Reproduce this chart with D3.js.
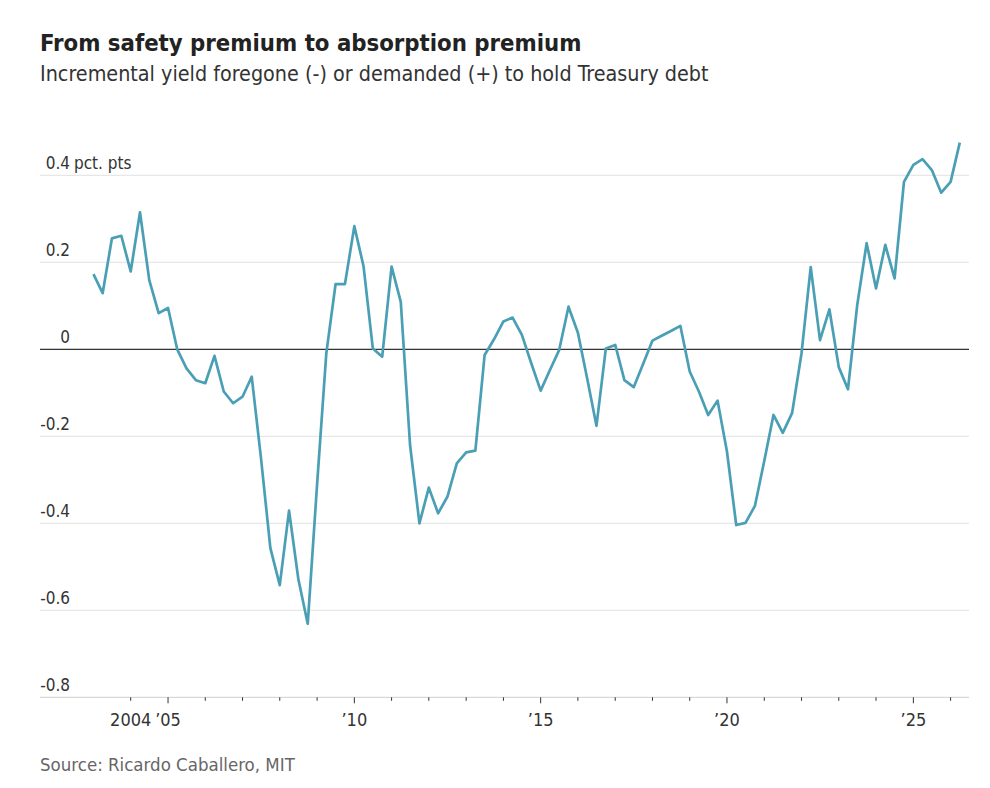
<!DOCTYPE html>
<html>
<head>
<meta charset="utf-8">
<script src="https://cdn.jsdelivr.net/npm/d3@7"></script>
<style>
  html, body { margin: 0; padding: 0; background: #fff; }
  svg { display: block; }
</style>
</head>
<body>
<svg id="chart" width="990" height="788"></svg>
<script>
// ---- Data ----
const quarters = [
  "2003Q1","2003Q2","2003Q3","2003Q4","2004Q1","2004Q2","2004Q3","2004Q4",
  "2005Q1","2005Q2","2005Q3","2005Q4","2006Q1","2006Q2","2006Q3","2006Q4",
  "2007Q1","2007Q2","2007Q3","2007Q4","2008Q1","2008Q2","2008Q3","2008Q4",
  "2009Q1","2009Q2","2009Q3","2009Q4","2010Q1","2010Q2","2010Q3","2010Q4",
  "2011Q1","2011Q2","2011Q3","2011Q4","2012Q1","2012Q2","2012Q3","2012Q4",
  "2013Q1","2013Q2","2013Q3","2013Q4","2014Q1","2014Q2","2014Q3","2014Q4",
  "2015Q1","2015Q2","2015Q3","2015Q4","2016Q1","2016Q2","2016Q3","2016Q4",
  "2017Q1","2017Q2","2017Q3","2017Q4","2018Q1","2018Q2","2018Q3","2018Q4",
  "2019Q1","2019Q2","2019Q3","2019Q4","2020Q1","2020Q2","2020Q3","2020Q4",
  "2021Q1","2021Q2","2021Q3","2021Q4","2022Q1","2022Q2","2022Q3","2022Q4",
  "2023Q1","2023Q2","2023Q3","2023Q4","2024Q1","2024Q2","2024Q3","2024Q4",
  "2025Q1","2025Q2","2025Q3","2025Q4","2026Q1","2026Q2"
];
const premium = [
   0.173, 0.129, 0.255, 0.261, 0.179, 0.315, 0.159, 0.083,
   0.095, 0.000,-0.044,-0.071,-0.078,-0.015,-0.097,-0.124,
  -0.109,-0.063,-0.250,-0.457,-0.542,-0.371,-0.528,-0.631,
  -0.310,-0.010, 0.150, 0.150, 0.283, 0.191, 0.002,-0.017,
   0.190, 0.109,-0.220,-0.400,-0.318,-0.377,-0.339,-0.262,
  -0.237,-0.233,-0.013, 0.023, 0.064, 0.073, 0.033,-0.032,
  -0.095,-0.048,-0.002, 0.098, 0.038,-0.067,-0.176, 0.002,
   0.010,-0.071,-0.087,-0.034, 0.020, 0.031, 0.042, 0.054,
  -0.051,-0.097,-0.151,-0.118,-0.235,-0.404,-0.399,-0.360,
  -0.256,-0.151,-0.192,-0.146,-0.009, 0.189, 0.021, 0.092,
  -0.041,-0.092, 0.102, 0.244, 0.140, 0.240, 0.163, 0.385,
   0.424, 0.437, 0.412, 0.360, 0.385, 0.475
];
const yTicks = [-0.8, -0.6, -0.4, -0.2, 0, 0.2, 0.4];
const yTickLabels = ["-0.8", "-0.6", "-0.4", "-0.2", "0", "0.2", "0.4"];
const xTickYears = [2004,2005,2006,2007,2008,2009,2010,2011,2012,2013,2014,2015,
                    2016,2017,2018,2019,2020,2021,2022,2023,2024,2025,2026];
const xLabelMap = { 2004: "2004", 2005: "\u201905", 2010: "\u201910", 2015: "\u201915", 2020: "\u201920", 2025: "\u201925" };
const title = "From safety premium to absorption premium";
const subtitle = "Incremental yield foregone (-) or demanded (+) to hold Treasury debt";
const source = "Source: Ricardo Caballero, MIT";
const unitLabel = "pct. pts";

// ---- Setup ----
const FONT = "'Liberation Sans Narrow', 'DejaVu Sans Condensed', 'Roboto', sans-serif";
const svg = d3.select("#chart");
const parseQ = s => new Date(+s.slice(0, 4), (+s.slice(5) - 1) * 3, 1);
const data = quarters.map((q, i) => ({ date: parseQ(q), value: premium[i] }));

const plotLeft = 40, plotRight = 969;
const x = d3.scaleTime()
  .domain([new Date(2004, 0, 1), new Date(2026, 0, 1)])
  .range([130.7, 950.6]);
const y = d3.scaleLinear().domain([-0.8, 0.5]).range([697.3, 131.8]);

// Title, subtitle
svg.append("text").attr("x", 40).attr("y", 51)
  .attr("font-family", FONT).attr("font-weight", 700).attr("font-size", 23.7)
  .attr("fill", "#222").text(title);
svg.append("text").attr("x", 40).attr("y", 81)
  .attr("font-family", FONT).attr("font-size", 21.35)
  .attr("fill", "#333").text(subtitle);

// Gridlines
const g = svg.append("g");
g.selectAll("line.grid").data(yTicks.filter(v => v !== 0 && v !== -0.8)).join("line")
  .attr("class", "grid")
  .attr("x1", plotLeft).attr("x2", plotRight)
  .attr("y1", d => y(d)).attr("y2", d => y(d))
  .attr("stroke", "#e2e2e2").attr("stroke-width", 1);

// Y labels
g.selectAll("text.ylab").data(yTicks).join("text")
  .attr("class", "ylab")
  .attr("x", 70).attr("y", d => y(d) - 6)
  .attr("text-anchor", "end")
  .attr("font-family", FONT).attr("font-size", 17).attr("fill", "#333")
  .text((d, i) => yTickLabels[i]);
g.append("text").attr("x", 74).attr("y", y(0.4) - 6)
  .attr("font-family", FONT).attr("font-size", 17).attr("fill", "#333")
  .text(unitLabel);

// X axis
const xAxisG = svg.append("g").attr("transform", `translate(0,${y(-0.8)})`);
xAxisG.append("line").attr("x1", plotLeft).attr("x2", plotRight)
  .attr("stroke", "#cfcfcf").attr("stroke-width", 1);
const xTickDates = xTickYears.map(yr => new Date(yr, 0, 1));
xAxisG.selectAll("line.tick").data(xTickDates).join("line")
  .attr("class", "tick")
  .attr("x1", d => x(d)).attr("x2", d => x(d))
  .attr("y1", 0).attr("y2", d => d.getFullYear() % 5 === 0 ? 6 : 3.5)
  .attr("stroke", "#333").attr("stroke-width", 1);
xAxisG.selectAll("text.xlab").data(xTickDates.filter(d => xLabelMap[d.getFullYear()])).join("text")
  .attr("class", "xlab")
  .attr("x", d => x(d)).attr("y", 29)
  .attr("text-anchor", "middle")
  .attr("font-family", FONT).attr("font-size", 18).attr("fill", "#333")
  .text(d => xLabelMap[d.getFullYear()]);

// Zero line
svg.append("line").attr("x1", plotLeft).attr("x2", plotRight)
  .attr("y1", y(0)).attr("y2", y(0))
  .attr("stroke", "#333").attr("stroke-width", 1.3);

// Series line
const line = d3.line().x(d => x(d.date)).y(d => y(d.value));
svg.append("path").datum(data)
  .attr("d", line)
  .attr("fill", "none")
  .attr("stroke", "#4a9fb5")
  .attr("stroke-width", 2.7)
  .attr("stroke-linejoin", "round");

// Source
svg.append("text").attr("x", 40).attr("y", 771)
  .attr("font-family", FONT).attr("font-size", 18.5).attr("fill", "#666")
  .text(source);
</script>
</body>
</html>
